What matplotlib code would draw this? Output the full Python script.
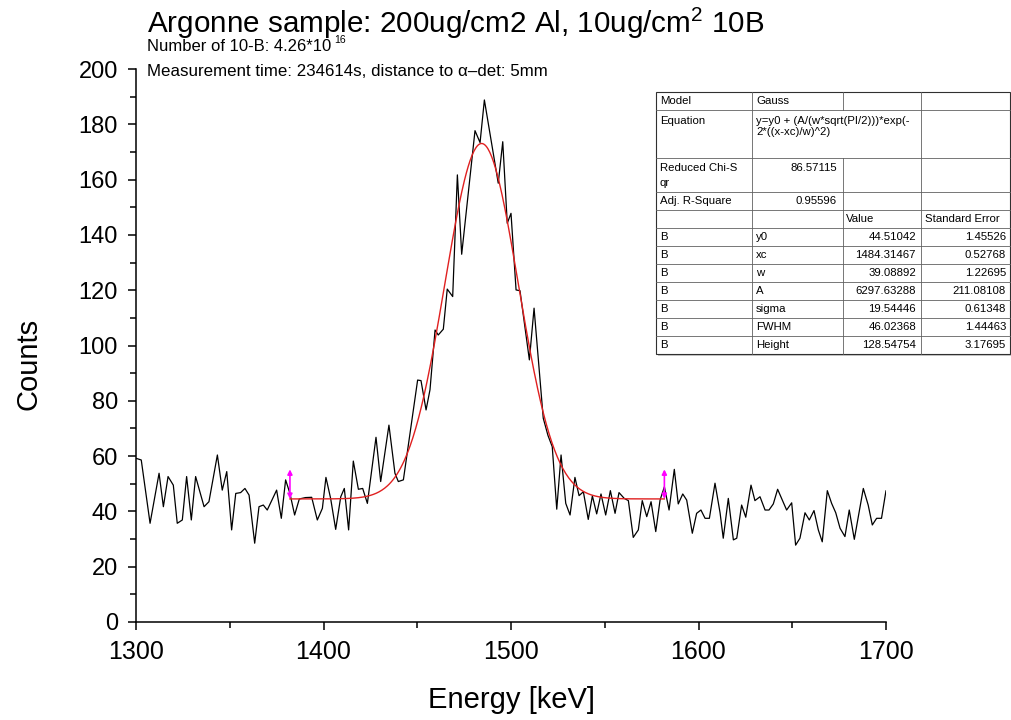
import numpy as np
import matplotlib
matplotlib.use('Agg')
import matplotlib.pyplot as plt
from matplotlib.ticker import MultipleLocator

plt.rcParams['font.family'] = ['Liberation Sans', 'DejaVu Sans']
plt.rcParams['mathtext.fontset'] = 'custom'
plt.rcParams['mathtext.rm'] = 'Liberation Sans'
plt.rcParams['mathtext.it'] = 'Liberation Sans:italic'

# spectrum
energy = [1300.0, 1302.8, 1307.5, 1312.3, 1314.6, 1317.1, 1319.9, 1322.0, 1324.7, 1327.0,
          1329.5, 1331.8, 1336.3, 1338.9, 1343.4, 1346.0, 1348.4, 1351.0, 1353.2, 1355.8,
          1358.1, 1360.3, 1363.3, 1365.6, 1367.9, 1370.0, 1375.0, 1377.5, 1379.8, 1382.1,
          1384.6, 1387.1, 1390.4, 1393.7, 1396.7, 1399.4, 1401.3, 1403.8, 1406.5, 1409.2,
          1411.1, 1413.4, 1415.9, 1418.6, 1420.9, 1423.4, 1428.0, 1430.5, 1434.9, 1438.1,
          1439.9, 1442.6, 1450.2, 1452.0, 1454.7, 1456.8, 1459.5, 1461.2, 1463.9, 1466.0,
          1468.9, 1471.4, 1473.7, 1480.8, 1483.5, 1485.8, 1493.2, 1495.6, 1498.0, 1500.0,
          1502.7, 1504.8, 1509.8, 1512.3, 1517.2, 1519.7, 1522.0, 1524.4, 1526.7, 1529.2,
          1531.5, 1534.1, 1536.3, 1538.6, 1541.2, 1543.4, 1545.7, 1548.0, 1550.5, 1553.0,
          1555.5, 1557.6, 1560.4, 1562.6, 1565.2, 1567.9, 1570.0, 1572.4, 1574.7, 1577.2,
          1579.5, 1581.8, 1584.3, 1587.1, 1589.2, 1591.6, 1593.7, 1596.7, 1599.0, 1601.3,
          1603.5, 1605.8, 1608.8, 1611.5, 1613.2, 1615.9, 1618.6, 1620.4, 1623.0, 1625.2,
          1628.0, 1630.1, 1632.8, 1635.5, 1637.6, 1639.9, 1642.2, 1647.0, 1649.7, 1651.8,
          1654.1, 1656.8, 1659.1, 1661.6, 1663.9, 1666.0, 1668.7, 1671.0, 1673.2, 1675.5,
          1678.1, 1680.4, 1683.1, 1687.9, 1690.5, 1692.7, 1695.0, 1697.6, 1700.0, 1700.9]
counts = [59.2, 58.6, 35.7, 53.8, 41.7, 52.6, 49.5, 35.7, 36.9, 52.6,
          36.9, 52.6, 41.7, 43.5, 60.4, 47.7, 54.4, 33.3, 46.5, 46.8,
          48.3, 45.9, 28.5, 41.7, 42.3, 40.5, 47.7, 37.5, 51.4, 46.5,
          38.7, 44.5, 45.0, 45.1, 36.9, 41.1, 52.3, 44.7, 33.5, 45.3,
          48.3, 33.3, 58.2, 48.0, 48.3, 42.9, 66.8, 50.8, 71.2, 53.8,
          50.8, 51.4, 87.5, 87.3, 76.7, 84.0, 105.6, 103.8, 105.9, 120.4,
          117.7, 161.7, 133.0, 177.7, 173.4, 188.8, 158.7, 173.7, 144.2, 147.8,
          120.1, 119.8, 94.8, 113.5, 73.7, 67.5, 63.4, 40.8, 60.4, 42.9,
          38.7, 52.3, 45.7, 47.1, 37.1, 45.6, 39.1, 46.3, 38.7, 47.5,
          39.3, 46.8, 44.7, 43.9, 30.6, 33.3, 43.9, 38.1, 43.5, 32.7,
          44.1, 48.9, 40.5, 55.2, 42.7, 46.3, 44.1, 32.1, 39.3, 40.5,
          37.5, 37.5, 50.2, 39.5, 30.3, 44.7, 29.7, 30.3, 42.3, 37.9,
          49.5, 43.9, 45.3, 40.5, 40.5, 42.7, 48.0, 40.5, 43.1, 27.8,
          30.3, 39.5, 36.9, 40.3, 33.3, 29.0, 47.5, 42.9, 39.5, 33.9,
          30.9, 40.5, 29.9, 48.3, 42.3, 35.1, 37.5, 37.5, 47.5, 44.4]

# Gauss fit (Origin report)
y0, xc, w, A = 44.51042, 1484.31467, 39.08892, 6297.63288
fit_range = [1382.1, 1581.8]
marker_top = 55.2
param_names = ['y0', 'xc', 'w', 'A', 'sigma', 'FWHM', 'Height']
param_values = ['44.51042', '1484.31467', '39.08892', '6297.63288', '19.54446', '46.02368', '128.54754']
param_errors = ['1.45526', '0.52768', '1.22695', '211.08108', '0.61348', '1.44463', '3.17695']
red_chisqr = '86.57115'
adj_r2 = '0.95596'

W, H = 1012, 720
fig = plt.figure(figsize=(W / 100, H / 100), dpi=100)
ax = fig.add_axes([136 / W, 1 - 622 / H, 750 / W, 553 / H])

ax.plot(energy, counts, color='black', lw=0.9)
xf = np.linspace(fit_range[0], fit_range[1], 400)
yf = y0 + A / (w * np.sqrt(np.pi / 2)) * np.exp(-2 * ((xf - xc) / w) ** 2)
ax.plot(xf, yf, color='#e02020', lw=1.0)
for xm in fit_range:
    ax.annotate('', xy=(xm, marker_top), xytext=(xm, y0),
                arrowprops=dict(arrowstyle='<|-|>', color='magenta', lw=1.2,
                                mutation_scale=7, shrinkA=0, shrinkB=0))

ax.set_xlim(1300, 1700)
ax.set_ylim(0, 200)
ax.xaxis.set_major_locator(MultipleLocator(100))
ax.xaxis.set_minor_locator(MultipleLocator(50))
ax.yaxis.set_major_locator(MultipleLocator(20))
ax.yaxis.set_minor_locator(MultipleLocator(10))
for s in ['top', 'right']:
    ax.spines[s].set_visible(False)
for s in ['left', 'bottom']:
    ax.spines[s].set_linewidth(1.1)
ax.tick_params(which='major', direction='out', length=6, width=1.1, pad=7)
ax.tick_params(axis='y', labelsize=17)
ax.tick_params(axis='x', labelsize=18)
ax.tick_params(which='minor', direction='out', length=4, width=1.1)
ax.set_xlabel('Energy [keV]', fontsize=21, labelpad=16)
ax.set_ylabel('Counts', fontsize=21, labelpad=26)
ax.yaxis.label.set_y(0.467)

fig.text(147 / W, 1 - 33 / H, 'Argonne sample: 200ug/cm2 Al, 10ug/cm$^2$ 10B',
         fontsize=21.3, va='baseline')
fig.text(147 / W, 1 - 51 / H, 'Number of 10-B: 4.26*10', fontsize=12, va='baseline')
fig.text(334 / W, 1 - 43 / H, '16', fontsize=7.5, va='baseline')
fig.text(147 / W, 1 - 76 / H, 'Measurement time: 234614s, distance to \u03b1\u2013det: 5mm',
         fontsize=12.2, va='baseline')

# fit report table
tab = fig.add_axes([650 / W, 1 - 360 / H, 362 / W, 270 / H])
tab.set_xlim(650, 1012)
tab.set_ylim(360, 90)
tab.axis('off')
tab.add_patch(plt.Rectangle((658, 94), 354, 262, color='#c8c8c8', lw=0))
tab.add_patch(plt.Rectangle((656, 92), 354, 262, facecolor='white', edgecolor='#303030', lw=0.8))
col_x = [656, 752, 843, 921, 1010]
row_y = [92, 110, 158, 192, 210, 228, 246, 264, 282, 300, 318, 336, 354]
for yy in row_y[1:-1]:
    tab.plot([656, 1010], [yy, yy], color='#606060', lw=0.6)
for xx in col_x[1:-1]:
    if xx == 843:
        tab.plot([xx, xx], [92, 110], color='#606060', lw=0.6)
        tab.plot([xx, xx], [158, 354], color='#606060', lw=0.6)
    else:
        tab.plot([xx, xx], [92, 354], color='#606060', lw=0.6)

fs = 8.2
tab.text(660, 101, 'Model', fontsize=fs, va='center')
tab.text(756, 101, 'Gauss', fontsize=fs, va='center')
tab.text(660, 121, 'Equation', fontsize=fs, va='center')
tab.text(756, 121, 'y=y0 + (A/(w*sqrt(PI/2)))*exp(-', fontsize=fs, va='center')
tab.text(756, 132, '2*((x-xc)/w)^2)', fontsize=fs, va='center')
tab.text(660, 168, 'Reduced Chi-S', fontsize=fs, va='center')
tab.text(660, 183, 'qr', fontsize=fs, va='center')
tab.text(837, 168, red_chisqr, fontsize=fs, va='center', ha='right')
tab.text(660, 201, 'Adj. R-Square', fontsize=fs, va='center')
tab.text(837, 201, adj_r2, fontsize=fs, va='center', ha='right')
tab.text(846, 219, 'Value', fontsize=fs, va='center')
tab.text(925, 219, 'Standard Error', fontsize=fs, va='center')
for i, (nm, v, e) in enumerate(zip(param_names, param_values, param_errors)):
    yy = 237 + 18 * i
    tab.text(660, yy, 'B', fontsize=fs, va='center')
    tab.text(756, yy, nm, fontsize=fs, va='center')
    tab.text(916, yy, v, fontsize=fs, va='center', ha='right')
    tab.text(1006, yy, e, fontsize=fs, va='center', ha='right')

fig.savefig('out.png', dpi=100)
